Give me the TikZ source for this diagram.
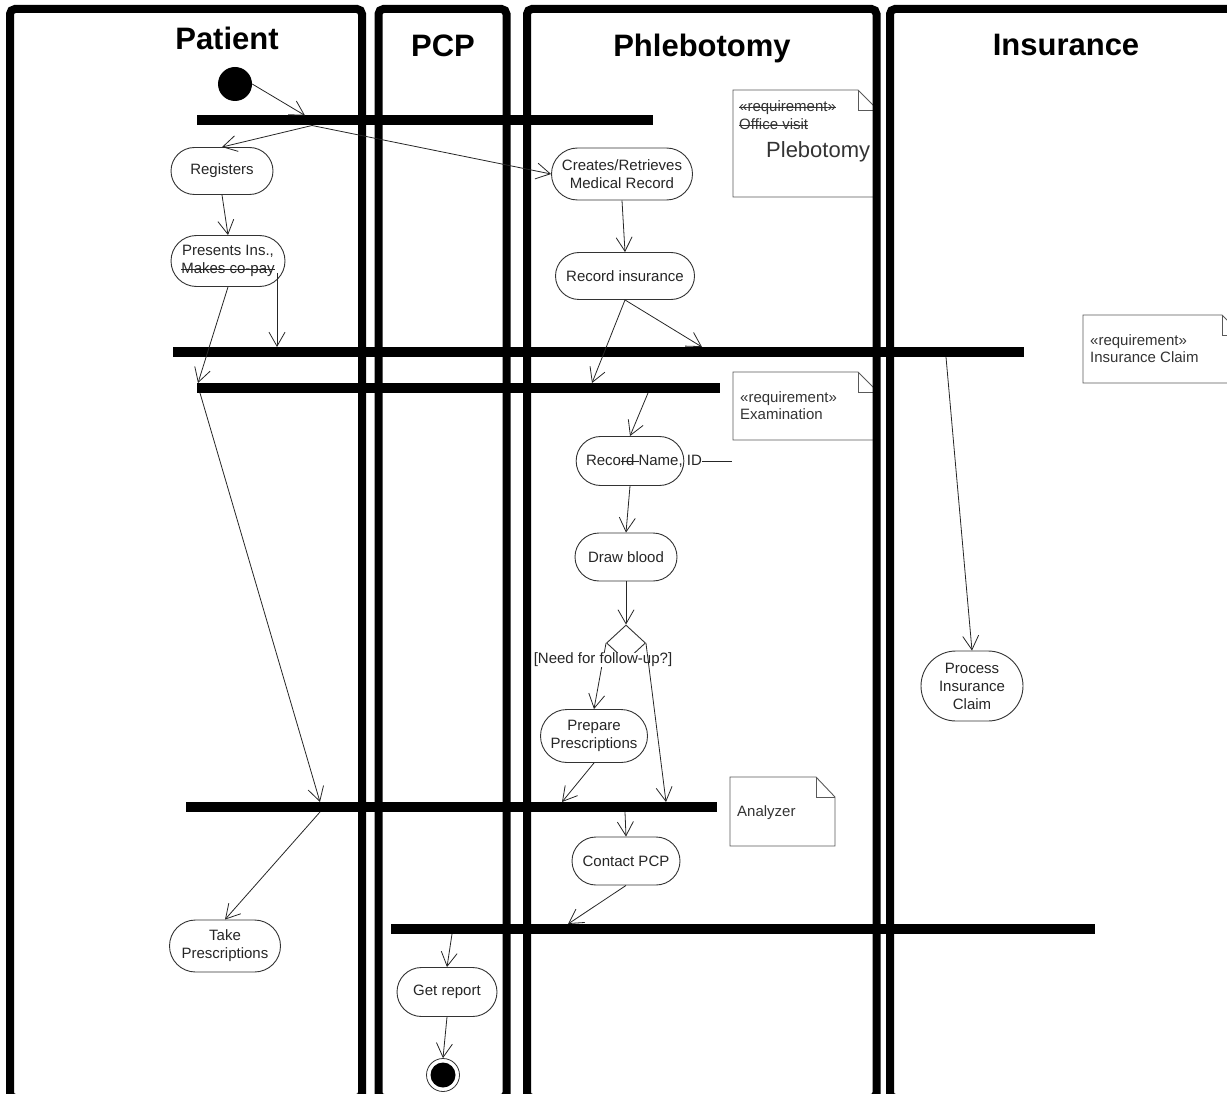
\documentclass[tikz,border=0pt]{standalone}
\usepackage{fontspec}
\setmainfont{Liberation Sans}
\usetikzlibrary{arrows.meta,shapes.misc,shapes.geometric}
% struck-through text
\newcommand\strk[1]{\leavevmode\setbox0\hbox{#1}\rlap{\rule[0.27em]{\wd0}{0.8pt}}\box0}

\begin{document}
\begin{tikzpicture}[x=1pt,y=-1pt,
  lane/.style={line width=8pt, rounded corners=5pt, draw=black},
  bar/.style={line width=10pt, draw=black},
  lanetitle/.style={anchor=base, inner sep=0pt, font=\fontsize{31}{31}\selectfont\bfseries},
  act/.style={rounded rectangle, draw=black!80, line width=0.9pt, fill=white,
    inner sep=0pt, align=center, text=black!85,
    font=\fontsize{15}{18}\selectfont},
  note/.style={draw=black!65, line width=0.9pt},
  notetext/.style={anchor=base west, inner sep=0pt, text=black!80,
    font=\fontsize{15}{18}\selectfont},
  flow/.style={line width=0.8pt, draw=black!85,
    -{Straight Barb[length=14pt,width=16pt,line width=0.8pt]}},
  plain/.style={line width=0.8pt, draw=black!85}
]
\useasboundingbox (0,0) rectangle (1227,1094);
\clip (0,0) rectangle (1227,1094);

% ---- notes (drawn first so the lane borders sit on top) ----
% Office visit / Plebotomy
\draw[note] (733,90) -- (858,90) -- (878,110) -- (878,197) -- (733,197) -- cycle;
\draw[note] (858,90) -- (858,110) -- (878,110);
\node[notetext] (n1a) at (739,112) {\strk{«requirement»}};
\node[notetext] (n1b) at (739,130) {\strk{Office visit}};
\node[notetext, font=\fontsize{22}{22}\selectfont] (n1c) at (766,158) {Plebotomy};
% Examination
\draw[note] (733,372) -- (858,372) -- (878,392) -- (878,440) -- (733,440) -- cycle;
\draw[note] (858,372) -- (858,392) -- (878,392);
\node[notetext] (n2a) at (740,402) {«requirement»};
\node[notetext] (n2b) at (740,419) {Examination};
% Insurance Claim
\draw[note] (1083,315) -- (1222,315) -- (1242,335) -- (1242,383) -- (1083,383) -- cycle;
\draw[note] (1222,315) -- (1222,335) -- (1242,335);
\node[notetext] (n3a) at (1090,345) {«requirement»};
\node[notetext] (n3b) at (1090,362) {Insurance Claim};
% Analyzer
\draw[note] (730,777) -- (816,777) -- (835,797) -- (835,846) -- (730,846) -- cycle;
\draw[note] (816,777) -- (816,797) -- (835,797);
\node[notetext] (n4a) at (737,816) {Analyzer};

% ---- swimlanes ----
\draw[lane] (10,9) rectangle (362,1098);
\draw[lane] (378.5,9) rectangle (506.5,1098);
\draw[lane] (527,9) rectangle (876.5,1098);
\draw[lane] (890,9) rectangle (1270,1098);

\node[lanetitle] (tpat) at (227,50) {Patient};
\node[lanetitle] (tpcp) at (443,57) {PCP};
\node[lanetitle] (tphl) at (702,57) {Phlebotomy};
\node[lanetitle] (tins) at (1066,56) {Insurance};

% ---- synchronisation bars ----
\draw[bar] (197,120.5) -- (653,120.5);
\draw[bar] (173,352) -- (1024,352);
\draw[bar] (197,388) -- (720,388);
\draw[bar] (186,807) -- (717,807);
\draw[bar] (391,929) -- (1095,929);

% connection points on the bars
\coordinate (b1in)  at (305,115.5);
\coordinate (b1out) at (312,125.5);
\coordinate (b2ina) at (277,347);
\coordinate (b2inb) at (702,347);
\coordinate (b2out) at (946,357);
\coordinate (b3ina) at (198,383);
\coordinate (b3inb) at (592,383);
\coordinate (b3outa) at (200,393);
\coordinate (b3outb) at (648,393);
\coordinate (b4ina) at (320,802);
\coordinate (b4inb) at (562,802);
\coordinate (b4inc) at (666,802);
\coordinate (b4outa) at (320,812);
\coordinate (b4outb) at (625,812);
\coordinate (b5in)  at (568,924);
\coordinate (b5out) at (452,934);

% ---- initial and final nodes ----
\node[circle, fill=black, minimum size=34pt, inner sep=0pt] (start) at (235,84) {};
\node[circle, draw=black!80, line width=0.8pt, fill=white, minimum size=33pt, inner sep=0pt,
  path picture={\fill[black] (path picture bounding box.center) circle (12.5pt);}] (final) at (443,1075) {};

% ---- actions ----
\node[act, minimum width=102pt, minimum height=47pt] (reg) at (222,171) {Registers};
\node[act, minimum width=114pt, minimum height=51pt] (pres) at (228,261) {Presents Ins.,\\\strk{Makes co-pay}};
\node[act, minimum width=141pt, minimum height=52pt] (creates) at (622,174) {Creates/Retrieves\\Medical Record};
\node[act, minimum width=139pt, minimum height=47pt] (recins) at (625,276) {Record insurance};
\node[act, minimum width=106pt, minimum height=49pt, inner xsep=9pt] (recname) at (630,461)
  {\makebox[88pt][l]{Reco\strk{rd }Name, ID\rule[4pt]{30pt}{0.8pt}}};
\node[act, minimum width=102pt, minimum height=48pt] (draw) at (626,557) {Draw blood};
\node[diamond, draw=black!80, line width=0.9pt, fill=white, inner sep=0pt,
  minimum width=39pt, minimum height=36pt] (dec) at (626,643) {};
\node[act, minimum width=107pt, minimum height=53pt] (prep) at (594,736) {Prepare\\Prescriptions};
\node[act, minimum width=108pt, minimum height=48pt] (contact) at (626,861) {Contact PCP};
\node[act, minimum width=111pt, minimum height=52pt] (take) at (225,946) {Take\\Prescriptions};
\node[act, minimum width=100pt, minimum height=49pt] (getrep) at (447,992) {Get report};
\node[act, minimum width=102pt, minimum height=70pt] (proc) at (972,686) {Process\\Insurance\\Claim};

\coordinate (presr) at (277,273);

% ---- control flows ----
\draw[flow] (start.east) -- (b1in);
\draw[flow] (b1out) -- (reg.north);
\draw[flow] (b1out) -- (creates.west);
\draw[flow] (reg.south) -- (pres.north);
\draw[flow] (pres.south) -- (b3ina);
\draw[flow] (presr) -- (b2ina);
\draw[flow] (creates.south) -- (recins.north);
\draw[flow] (recins.south) -- (b3inb);
\draw[flow] (recins.south) -- (b2inb);
\draw[flow] (b2out) -- (proc.north);
\draw[flow] (b3outa) -- (b4ina);
\draw[flow] (b3outb) -- (recname.north);
\draw[flow] (recname.south) -- (draw.north);
\draw[flow] (draw.south) -- (dec.north);
\draw[flow] (dec.west) -- (prep.north);
\node[fill=white, inner sep=0pt, text=black!85, font=\fontsize{15}{18}\selectfont] (guard) at (603,660) {[Need for follow-up?]};
\draw[flow] (dec.east) -- (b4inc);
\draw[flow] (prep.south) -- (b4inb);
\draw[flow] (b4outb) -- (contact.north);
\draw[flow] (b4outa) -- (take.north);
\draw[flow] (contact.south) -- (b5in);
\draw[flow] (b5out) -- (getrep.north);
\draw[flow] (getrep.south) -- (final.north);
\end{tikzpicture}
\end{document}
